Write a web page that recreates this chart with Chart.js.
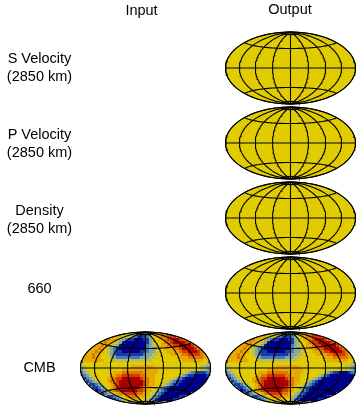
<!DOCTYPE html>
<html>
<head>
<meta charset="utf-8">
<style>
  body { margin: 0; background: #fff; }
  canvas { display: block; }
</style>
<script src="https://cdn.jsdelivr.net/npm/chart.js@4"></script>
</head>
<body>
<canvas id="chart" width="360" height="408"></canvas>
<script>
var columnLabels = ["Input", "Output"];
var rowLabels = [["S Velocity", "(2850 km)"], ["P Velocity", "(2850 km)"], ["Density", "(2850 km)"], ["660"], ["CMB"]];
var lonTicks = [-180, -135, -90, -45, 0, 45, 90, 135, 180];
var latTicks = [-45, 0, 45];
var levelColors = ["#00008c", "#143ca8", "#4a7ab4", "#7eaaa0", "#bcbc5a", "#e0cc00", "#e6aa00", "#e07800", "#d23c00", "#aa0000"];

// CMB field: one digit per cell, top row first, 0 = deep blue, 5 = yellow, 9 = deep red
var cmbInput = [
  "555443355667",
  "6665543211124566778887",
  "76654321100011345667889987",
  "676654310000000134556778999987",
  "6676654310000000023455667788999987",
  "667654321000000000233455666778999987",
  "66766543211000000112334555666678899987",
  "6676655432111111111233445555666677888876",
  "666766555432222222233344555555556667777766",
  "666666655544444444444445555555555666666655",
  "55555555555555555555555555555555555555555544",
  "44555555555555555666666665555555555555554433",
  "34555555555555666666666666555555555555554432",
  "23455555555666777777766666555555555432211123",
  "234555555667788888877666555555554321100001",
  "123455556678899999987766555555432100000000",
  "1234555677899999999876655554321100000000",
  "11234556789999999987665554321100000000",
  "112345678999999987665543210000000000",
  "0123567889999988766543210000000000",
  "123456778888776654321000000000",
  "11234567776665432100000011",
  "1234556665543210000011",
  "234555433222"
];
var cmbOutput = [
  "555443355667",
  "6665543211124566778887",
  "76654321100011345667899987",
  "676654310000000134556788999987",
  "6676654310000000023455667889999987",
  "667654321000000000233455667789999987",
  "66766543211000000112334555666788999987",
  "6676655432111111111233445555666677888876",
  "666766555432222222233344555555556667777766",
  "666666655544444444444445555555555666666655",
  "55555555555555555555555555555555555555555544",
  "44555555555555555666666665555555555555554433",
  "34555555555555666666666666555555555555554432",
  "23455555555666777777766666555555543211000123",
  "234555555667788888877666555555432100000000",
  "123455556678899999987766555543210000000000",
  "1234555677899999999876655432100000000000",
  "11234556789999999987655432100000000000",
  "112345678999999987655432100000000000",
  "0123567889999988765432100000000000",
  "123456778888776543210000000000",
  "11234567776664321000000001",
  "1234556665532100000011",
  "234555433222"
];

function hammer(lon, lat) {
  var l = lon * Math.PI / 180, p = lat * Math.PI / 180;
  var d = Math.sqrt(1 + Math.cos(p) * Math.cos(l / 2));
  return { x: Math.cos(p) * Math.sin(l / 2) / d, y: Math.sin(p) / d };
}

var panels = [
  { cx: 290.5, cy: 68 }, { cx: 290.5, cy: 143 }, { cx: 290.5, cy: 218 }, { cx: 290.5, cy: 293 },
  { cx: 145.5, cy: 368, rows: cmbInput }, { cx: 290.5, cy: 368, rows: cmbOutput }
];
var RX = 65, RY = 36, CELL = 3;

function place(panel, lon, lat) {
  var h = hammer(lon, lat);
  return { x: panel.cx + RX * h.x, y: panel.cy - RY * h.y };
}
function curve(panel, fn, from, to, step) {
  var pts = [];
  for (var t = from; t <= to; t += step) pts.push(fn(panel, t));
  return pts;
}

var datasets = [];
panels.forEach(function (panel) {
  // map disc
  var outline = curve(panel, function (p, t) { return place(p, 180, t); }, -90, 90, 3)
    .concat(curve(panel, function (p, t) { return place(p, -180, t); }, -90, 90, 3).reverse());
  datasets.push({ type: "line", data: outline, fill: "shape", backgroundColor: "#e0cc00",
    borderColor: "#000", borderWidth: 1, pointRadius: 0, tension: 0, order: 30 });

  // field cells, one dataset per colour level
  if (panel.rows) {
    levelColors.forEach(function (color, level) {
      var cells = [];
      panel.rows.forEach(function (row, r) {
        var start = Math.ceil(panel.cx) - row.length * CELL / 2;
        for (var c = 0; c < row.length; c++) {
          if (+row[c] === level) cells.push({ x: start + (c + 0.5) * CELL, y: panel.cy + (r - 11.5) * CELL });
        }
      });
      datasets.push({ type: "scatter", data: cells, pointStyle: "rect", pointRadius: CELL / Math.SQRT2,
        backgroundColor: color, borderWidth: 0, order: 20, disc: panel });
    });
  }

  // graticule
  lonTicks.forEach(function (lon) {
    datasets.push({ type: "line", data: curve(panel, function (p, t) { return place(p, lon, t); }, -90, 90, 3),
      borderColor: "#000", borderWidth: 1.1, pointRadius: 0, fill: false, tension: 0, order: 10 });
  });
  latTicks.concat([-82, 82]).forEach(function (lat) {
    datasets.push({ type: "line", data: curve(panel, function (p, t) { return place(p, t, lat); }, -180, 180, 5),
      borderColor: "#000", borderWidth: 1.1, pointRadius: 0, fill: false, tension: 0, order: 10 });
  });
});

// keeps the square field cells inside the map outline
var discClipPlugin = {
  id: "discClip",
  beforeDatasetDraw: function (chart, args) {
    var panel = chart.data.datasets[args.index].disc;
    if (!panel) return;
    chart.ctx.save();
    chart.ctx.beginPath();
    chart.ctx.ellipse(panel.cx, panel.cy, RX, RY, 0, 0, Math.PI * 2);
    chart.ctx.clip();
  },
  afterDatasetDraw: function (chart, args) {
    if (chart.data.datasets[args.index].disc) chart.ctx.restore();
  }
};

var rowLabelY = [59, 135, 211, 289, 368];
var labelsPlugin = {
  id: "labels",
  afterDraw: function (chart) {
    var ctx = chart.ctx;
    ctx.save();
    ctx.fillStyle = "#000";
    ctx.font = "14.5px 'Liberation Sans'";
    ctx.textAlign = "center";
    ctx.textBaseline = "middle";
    ctx.fillText(columnLabels[0], 141.5, 11);
    ctx.fillText(columnLabels[1], 290, 10);
    rowLabels.forEach(function (lines, i) {
      lines.forEach(function (text, j) {
        ctx.fillText(text, 39.5, rowLabelY[i] + j * 17.5);
      });
    });
    ctx.restore();
  }
};

new Chart(document.getElementById("chart"), {
  type: "scatter",
  data: { datasets: datasets },
  options: {
    responsive: false,
    animation: false,
    events: [],
    layout: { padding: 0, autoPadding: false },
    clip: false,
    plugins: { legend: { display: false }, tooltip: { enabled: false } },
    scales: {
      x: { type: "linear", min: 0, max: 360, display: false },
      y: { type: "linear", min: 0, max: 408, reverse: true, display: false }
    }
  },
  plugins: [discClipPlugin, labelsPlugin]
});
</script>
</body>
</html>
